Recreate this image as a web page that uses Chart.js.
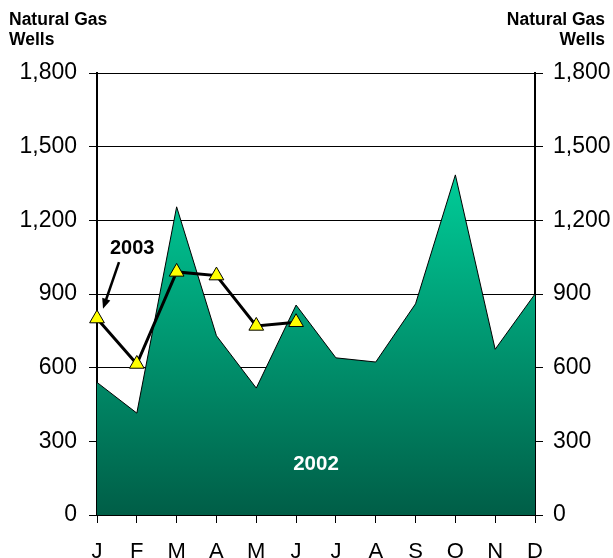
<!DOCTYPE html>
<html>
<head>
<meta charset="utf-8">
<script src="https://cdn.jsdelivr.net/npm/chart.js@4/dist/chart.umd.min.js"></script>
<style>
  html, body { margin: 0; padding: 0; background: #fff; }
  #wrap { width: 613px; height: 558px; position: relative; }
</style>
</head>
<body>
<div id="wrap"><canvas id="wells-chart" width="613" height="558"></canvas></div>
<script>
// Monthly natural gas well counts
const months = ['J', 'F', 'M', 'A', 'M', 'J', 'J', 'A', 'S', 'O', 'N', 'D'];
const wells2002 = [540, 415, 1255, 730, 517, 855, 640, 623, 860, 1385, 675, 900];
const wells2003 = [800, 615, 990, 975, 770, 785, null, null, null, null, null, null];
const yTicks = [0, 300, 600, 900, 1200, 1500, 1800];

const FONT = '"Liberation Sans", Arial, sans-serif';

// Titles and annotations drawn on top of the chart
const labelsPlugin = {
    id: 'labels',
    afterDraw(chart) {
        const ctx = chart.ctx;
        const x = chart.scales.x;
        const y = chart.scales.y;
        ctx.save();
        ctx.fillStyle = '#000';
        ctx.font = 'bold 17.5px ' + FONT;
        ctx.textBaseline = 'alphabetic';
        ctx.textAlign = 'left';
        ctx.fillText('Natural Gas', 9, 25);
        ctx.fillText('Wells', 9, 45);
        ctx.textAlign = 'right';
        ctx.fillText('Natural Gas', 605, 25);
        ctx.fillText('Wells', 605, 45);

        // 2003 label with arrow
        ctx.font = 'bold 20px ' + FONT;
        ctx.textAlign = 'left';
        ctx.fillText('2003', x.getPixelForValue(0) + 13, y.getPixelForValue(1063));
        const x1 = x.getPixelForValue(0) + 22, y1 = y.getPixelForValue(1030);
        const x2 = x.getPixelForValue(0) + 6, y2 = y.getPixelForValue(840);
        ctx.strokeStyle = '#000';
        ctx.lineWidth = 2.5;
        ctx.beginPath();
        ctx.moveTo(x1, y1);
        ctx.lineTo(x2 + 2, y2 - 6);
        ctx.stroke();
        const ang = Math.atan2(y2 - y1, x2 - x1);
        ctx.beginPath();
        ctx.moveTo(x2, y2);
        ctx.lineTo(x2 - 11 * Math.cos(ang - 0.4), y2 - 11 * Math.sin(ang - 0.4));
        ctx.lineTo(x2 - 11 * Math.cos(ang + 0.4), y2 - 11 * Math.sin(ang + 0.4));
        ctx.closePath();
        ctx.fill();

        // 2002 label inside the area
        ctx.fillStyle = '#fff';
        ctx.font = 'bold 20.5px ' + FONT;
        ctx.textAlign = 'center';
        ctx.fillText('2002', (x.getPixelForValue(5) + x.getPixelForValue(6)) / 2, y.getPixelForValue(185));
        ctx.restore();
    }
};

function areaGradient(context) {
    const chart = context.chart;
    const { ctx, chartArea } = chart;
    if (!chartArea) return '#00a07a';
    const top = chart.scales.y.getPixelForValue(1385);
    const g = ctx.createLinearGradient(0, top, 0, chartArea.bottom);
    g.addColorStop(0, '#00cc98');
    g.addColorStop(1, '#005e47');
    return g;
}

const tickFont = { family: FONT, size: 23 };

new Chart(document.getElementById('wells-chart'), {
    type: 'line',
    data: {
        labels: months,
        datasets: [{
            label: '2003',
            data: wells2003,
            borderColor: '#000',
            borderWidth: 3,
            pointStyle: 'triangle',
            pointRadius: 8.5,
            pointBackgroundColor: '#ffff00',
            pointBorderColor: '#000',
            pointBorderWidth: 1,
            fill: false,
            tension: 0,
            order: 0
        }, {
            label: '2002',
            data: wells2002,
            borderColor: '#000',
            borderWidth: 1,
            backgroundColor: areaGradient,
            pointRadius: 0,
            fill: 'origin',
            tension: 0,
            order: 1
        }]
    },
    options: {
        responsive: false,
        animation: false,
        layout: { padding: { top: 73, left: 0, right: 0, bottom: 0 } },
        plugins: {
            legend: { display: false },
            tooltip: { enabled: false }
        },
        scales: {
            x: {
                offset: false,
                grid: { drawOnChartArea: false, drawTicks: true, tickLength: 8, color: '#000', lineWidth: 1 },
                border: { display: true, color: '#000', width: 2 },
                ticks: { color: '#000', font: { family: FONT, size: 22 }, padding: 16, maxRotation: 0, autoSkip: false },
                afterFit(scale) { scale.height = 43; }
            },
            y: {
                position: 'left',
                min: 0,
                max: 1800,
                afterBuildTicks(scale) { scale.ticks = yTicks.map(v => ({ value: v })); },
                grid: { color: '#000', lineWidth: 1, tickLength: 8 },
                border: { display: true, color: '#000', width: 2 },
                ticks: { color: '#000', font: tickFont, padding: 12, callback: v => v.toLocaleString('en-US') },
                afterFit(scale) { scale.width = 97; }
            },
            y2: {
                position: 'right',
                min: 0,
                max: 1800,
                afterBuildTicks(scale) { scale.ticks = yTicks.map(v => ({ value: v })); },
                grid: { drawOnChartArea: false, color: '#000', lineWidth: 1, tickLength: 8 },
                border: { display: true, color: '#000', width: 2 },
                ticks: { color: '#000', font: tickFont, padding: 10, callback: v => v.toLocaleString('en-US') },
                afterFit(scale) { scale.width = 78; }
            }
        }
    },
    plugins: [labelsPlugin]
});
</script>
</body>
</html>
